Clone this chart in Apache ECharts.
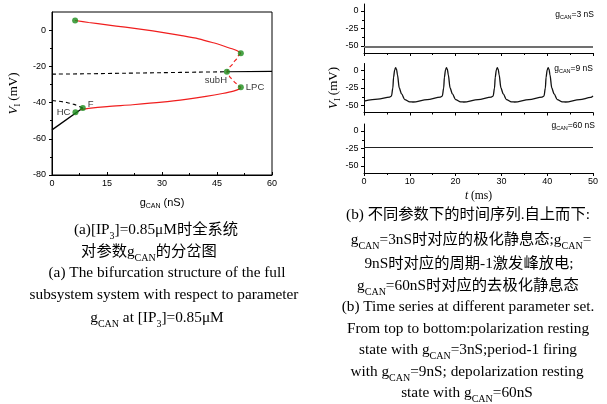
<!DOCTYPE html>
<html lang="zh">
<head>
<meta charset="UTF-8">
<title>gCAN 分岔图与时间序列</title>
<script src="https://cdn.jsdelivr.net/npm/echarts@6/dist/echarts.min.js"></script>
<style>
  html, body { margin: 0; padding: 0; background: #fff; }
  #main { width: 607px; height: 404px; }
</style>
</head>
<body>
<div id="main"></div>
<script>
// ---- (a) 分岔图, 点为 [g_CAN (nS), V_I (mV)] ----
var upperStable = [[6.3,5.3],[10,4.2],[15,2.9],[20,1.6],[25,0.3],[30,-1.2],[35,-2.9],[40,-4.8],[44,-7],[47,-8.9],[49.5,-10.6],[51,-11.9],[51.5,-12.8]];
var unstableCycle = [[51.5,-12.8],[50.4,-15.5],[49.3,-18.5],[48.3,-21],[47.7,-23],[48.4,-25.5],[49.6,-28.3],[50.7,-30.3],[51.5,-31.6]];
var lowerStable = [[51.5,-31.6],[51,-32.6],[49.5,-33.7],[46.5,-35],[42,-36.6],[37,-38.1],[30,-39.8],[22,-41.2],[15,-42.2],[10,-43.2],[7.8,-43.9]];
var eqUnstableHi = [[0,-24.3],[10,-24.1],[20,-23.8],[30,-23.5],[40,-23.2],[47.7,-23]];
var eqStableHi = [[47.7,-23],[60,-22.8]];
var eqUnstableLo = [[0,-38.9],[2,-39.3],[4,-40],[6,-41],[8.4,-43]];
var eqStableLo = [[0,-55.1],[8.4,-43]];

// 分岔点
var ptsX = [6.3, 51.5, 47.7, 51.5, 8.4, 6.4];
var ptsV = [5.3, -12.8, -23, -31.6, -43, -45.3];
var ptsName = ['', '', 'subH', 'LPC', 'F', 'HC'];

// ---- (b) 时间序列, 点为 [t (ms), V_I (mV)] ----
var series3 = [[0,-51.5],[50,-51.5]];
var series9 = [
  [0,-43.8],[3,-41],[5.6,-38],[6.0,-36.5],[6.3,-25],[6.45,-10],[6.7,1],[6.9,4],[7.1,2],[7.3,-6],[7.7,-25],[8.2,-33.5],[8.9,-41.5],[10.0,-44.8],[10.7,-45],[13.8,-41.6],
  [16.7,-38],[17.1,-36.5],[17.4,-25],[17.55,-10],[17.8,1],[18.0,4],[18.2,2],[18.4,-6],[18.8,-25],[19.3,-33.5],[20.0,-41.5],[21.1,-44.8],[21.8,-45],[24.9,-41.6],
  [27.8,-38],[28.2,-36.5],[28.5,-25],[28.65,-10],[28.9,1],[29.1,4],[29.3,2],[29.5,-6],[29.9,-25],[30.4,-33.5],[31.1,-41.5],[32.2,-44.8],[32.9,-45],[36.0,-41.6],
  [38.9,-38],[39.3,-36.5],[39.6,-25],[39.75,-10],[40.0,1],[40.2,4],[40.4,2],[40.6,-6],[41.0,-25],[41.5,-33.5],[42.2,-41.5],[43.3,-44.8],[44.0,-45],[47.1,-41.6],[49.5,-38.5],[50,-36.5]
];
var series60 = [[0,-23.6],[50,-23.6]];

var xTicksLeft = [0, 15, 30, 45, 60];
var yTicksLeft = [-80, -60, -40, -20, 0];
var yMinorLeft = [-70, -50, -30, -10];
var yTicksRight = [-50, -25, 0];
var yMinorRight = [-37.5, -12.5];

var SANS = "'Liberation Sans', Arial, sans-serif";
var SERIF = "'Liberation Serif', 'Noto Sans CJK SC', serif";

var chart = echarts.init(document.getElementById('main'), null, { renderer: 'canvas' });

var black = { color: '#000', width: 1 };
var tickLabel = { color: '#000', fontSize: 9, fontFamily: SANS };

var vNameStyle = {
  rich: {
    v: { fontFamily: SERIF, fontStyle: 'italic', fontSize: 13, color: '#000', lineHeight: 16 },
    s: { fontFamily: SERIF, fontSize: 8, color: '#000', verticalAlign: 'bottom', lineHeight: 10 },
    n: { fontFamily: SERIF, fontSize: 13, color: '#000', lineHeight: 16 }
  }
};

function rightX(grid, showLabel, name) {
  return {
    gridIndex: grid, type: 'value', min: 0, max: 50, interval: 10,
    axisLine: { onZero: false, lineStyle: black },
    axisTick: { length: 3, lineStyle: black },
    minorTick: { show: true, splitNumber: 2, length: 2, lineStyle: black },
    splitLine: { show: false },
    axisLabel: Object.assign({ show: showLabel, margin: 4 }, tickLabel),
    name: name || '',
    nameLocation: 'middle', nameGap: 17,
    nameTextStyle: {
      rich: {
        i: { fontFamily: SERIF, fontStyle: 'italic', fontSize: 11.5, color: '#000' },
        n: { fontFamily: SERIF, fontSize: 11.5, color: '#000' }
      }
    }
  };
}
function rightY(grid, name) {
  return {
    gridIndex: grid, type: 'value', min: -60, max: 10, position: 'left',
    axisLine: { onZero: false, lineStyle: black },
    axisTick: { length: 3, lineStyle: black, customValues: yTicksRight },
    splitLine: { show: false },
    axisLabel: Object.assign({ margin: 5.5, customValues: yTicksRight }, tickLabel),
    name: name || '',
    nameLocation: 'middle', nameRotate: 90, nameGap: 19,
    nameTextStyle: vNameStyle
  };
}
function minorY(grid, min, max, vals) {
  return {
    gridIndex: grid, type: 'value', min: min, max: max, position: 'left', offset: 0,
    axisLine: { show: false, onZero: false },
    axisTick: { length: 2, lineStyle: black, customValues: vals },
    axisLabel: { show: false },
    splitLine: { show: false }
  };
}

function line(data, xi, yi, color, width, dashed, mono) {
  return {
    type: 'line', data: data, xAxisIndex: xi, yAxisIndex: yi,
    showSymbol: false, symbol: 'none', smooth: 0.3, smoothMonotone: mono,
    lineStyle: { color: color, width: width, type: dashed ? [4, 3] : 'solid' },
    silent: true, z: 2
  };
}

var labelPos = {
  subH: { position: 'bottom', distance: 1, offset: [-11, 0] },
  LPC: { position: 'right', distance: 2 },
  F: { position: 'right', distance: 2, offset: [0, -4] },
  HC: { position: 'left', distance: 2 }
};
var ptsData = ptsX.map(function (x, i) {
  var nm = ptsName[i];
  var item = { value: [x, ptsV[i]], name: nm };
  if (nm) {
    item.label = Object.assign({ show: true, formatter: nm, color: '#000', fontSize: 9.5, fontFamily: SANS }, labelPos[nm]);
  }
  return item;
});

// 图题 (图下方文字)
var capRich = {
  n: { fontFamily: SERIF, fontSize: 15.3, fill: '#000', lineHeight: 22 },
  s: { fontFamily: SERIF, fontSize: 10, fill: '#000', verticalAlign: 'bottom', lineHeight: 13 }
};
var captions = [
  ['{n|(a)[IP}{s|3}{n|]=0.85μM时全系统}', 156, 230],
  ['{n|对参数g}{s|CAN}{n|的分岔图}', 149, 252],
  ['{n|(a) The bifurcation structure of the full}', 167, 273],
  ['{n|subsystem system with respect to parameter}', 164, 294.5],
  ['{n|g}{s|CAN}{n| at [IP}{s|3}{n|]=0.85μM}', 157, 318],
  ['{n|(b) 不同参数下的时间序列.自上而下:}', 468, 215],
  ['{n|g}{s|CAN}{n|=3nS时对应的极化静息态;g}{s|CAN}{n|=}', 471, 240],
  ['{n|9nS时对应的周期-1激发峰放电;}', 469, 264],
  ['{n|g}{s|CAN}{n|=60nS时对应的去极化静息态}', 468, 286],
  ['{n|(b) Time series at different parameter set.}', 468, 307],
  ['{n|From top to bottom:polarization resting}', 468, 328.5],
  ['{n|state with g}{s|CAN}{n|=3nS;period-1 firing}', 468, 350],
  ['{n|with g}{s|CAN}{n|=9nS; depolarization resting}', 467, 372],
  ['{n|state with g}{s|CAN}{n|=60nS}', 467, 393]
];
var smallRich = {
  n: { fontFamily: SANS, fontSize: 8.5, fill: '#000', lineHeight: 11 },
  s: { fontFamily: SANS, fontSize: 5.5, fill: '#000', verticalAlign: 'bottom', lineHeight: 7 }
};
var panelTags = [
  ['{n|g}{s|CAN}{n|=3 nS}', 594, 15],
  ['{n|g}{s|CAN}{n|=9 nS}', 593, 69],
  ['{n|g}{s|CAN}{n|=60 nS}', 595, 126]
];

var graphics = captions.map(function (c) {
  return { type: 'text', x: c[1], y: c[2], silent: true,
    style: { text: c[0], rich: capRich, align: 'center', verticalAlign: 'middle', fontFamily: SERIF, fontSize: 15.3, fill: '#000' } };
}).concat(panelTags.map(function (c) {
  return { type: 'text', x: c[1], y: c[2], silent: true,
    style: { text: c[0], rich: smallRich, align: 'right', verticalAlign: 'middle', fontFamily: SANS, fontSize: 8.5, fill: '#000' } };
}));

var option = {
  animation: false,
  backgroundColor: '#fff',
  grid: [
    { left: 52, top: 12, width: 220, height: 163, show: true, borderColor: '#000', borderWidth: 1, backgroundColor: 'transparent' },
    { left: 364, top: 4, width: 229, height: 49 },
    { left: 364, top: 63.5, width: 229, height: 49 },
    { left: 364, top: 124, width: 229, height: 49 }
  ],
  xAxis: [
    {
      gridIndex: 0, type: 'value', min: 0, max: 60, interval: 15,
      axisLine: { onZero: false, lineStyle: black },
      axisTick: { inside: true, length: 3, lineStyle: black },
      minorTick: { show: true, splitNumber: 2, length: 2, lineStyle: black },
      splitLine: { show: false },
      axisLabel: Object.assign({ margin: 4, customValues: xTicksLeft }, tickLabel),
      name: '{n|g}{s|CAN}{n| (nS)}',
      nameLocation: 'middle', nameGap: 21,
      nameTextStyle: {
        rich: {
          n: { fontFamily: SANS, fontSize: 11, color: '#000', lineHeight: 14 },
          s: { fontFamily: SANS, fontSize: 7, color: '#000', verticalAlign: 'bottom', lineHeight: 8 }
        }
      }
    },
    rightX(1, false),
    rightX(2, false),
    rightX(3, true, '{i|t}{n| (ms)}')
  ],
  yAxis: [
    {
      gridIndex: 0, type: 'value', min: -80, max: 10, position: 'left',
      axisLine: { onZero: false, lineStyle: black },
      axisTick: { length: 3, lineStyle: black, customValues: yTicksLeft },
      splitLine: { show: false },
      axisLabel: Object.assign({ margin: 6, customValues: yTicksLeft }, tickLabel),
      name: '{v|V}{s|I}{n| (mV)}',
      nameLocation: 'middle', nameRotate: 90, nameGap: 30,
      nameTextStyle: vNameStyle
    },
    minorY(0, -80, 10, yMinorLeft),
    rightY(1),
    minorY(1, -60, 10, yMinorRight),
    rightY(2, '{v|V}{s|I}{n| (mV)}'),
    minorY(2, -60, 10, yMinorRight),
    rightY(3),
    minorY(3, -60, 10, yMinorRight)
  ],
  series: [
    line(eqUnstableHi, 0, 0, '#000', 1.1, true),
    line(eqStableHi, 0, 0, '#000', 1.1, false),
    line(eqUnstableLo, 0, 0, '#000', 1.1, true),
    line(eqStableLo, 0, 0, '#000', 1.3, false),
    line(upperStable, 0, 0, '#f01e1e', 1.2, false),
    line(unstableCycle, 0, 0, '#f01e1e', 1.2, true, 'y'),
    line(lowerStable, 0, 0, '#f01e1e', 1.2, false),
    {
      type: 'scatter', xAxisIndex: 0, yAxisIndex: 0, data: ptsData,
      symbolSize: 6, itemStyle: { color: '#1a8c1a' }, silent: true, z: 5
    },
    line(series3, 1, 2, '#707070', 2, false),
    line(series9, 2, 4, '#111', 1.3, false, 'x'),
    line(series60, 3, 6, '#222', 1.2, false)
  ],
  graphic: graphics
};

chart.setOption(option);
</script>
</body>
</html>
